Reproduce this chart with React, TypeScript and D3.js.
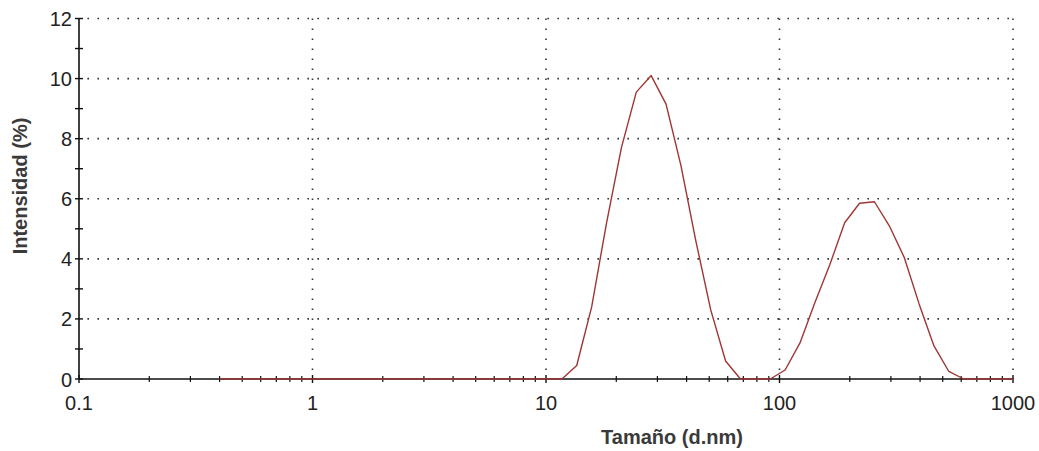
import React from "react";
import * as d3 from "d3";

// Size classes (d.nm) of the distribution
const sizes = [
  0.4, 0.4632, 0.5365, 0.6213, 0.7195, 0.8332, 0.9649, 1.117, 1.294, 1.499,
  1.736, 2.01, 2.328, 2.696, 3.122, 3.615, 4.187, 4.849, 5.615, 6.503,
  7.531, 8.721, 10.1, 11.7, 13.54, 15.69, 18.17, 21.04, 24.36, 28.21,
  32.67, 37.84, 43.82, 50.75, 58.77, 68.06, 78.82, 91.28, 105.7, 122.4,
  141.8, 164.2, 190.1, 220.2, 255.0, 295.3, 342.0, 396.1, 458.7, 531.2,
  615.1, 712.4, 825.0, 955.4, 1106,
];

// Intensity (%) per size class
const intensity = [
  0, 0, 0, 0, 0, 0, 0, 0, 0, 0,
  0, 0, 0, 0, 0, 0, 0, 0, 0, 0,
  0, 0, 0, 0, 0.45, 2.4, 5.2, 7.7, 9.55, 10.1,
  9.15, 7.1, 4.6, 2.3, 0.6, 0, 0, 0, 0.3, 1.2,
  2.55, 3.8, 5.2, 5.85, 5.9, 5.1, 4.05, 2.5, 1.1, 0.25,
  0, 0, 0, 0, 0,
];

const yTicks = [0, 2, 4, 6, 8, 10, 12];
const yMinorTicks = [1, 3, 5, 7, 9, 11];
const xDecades = [0.1, 1, 10, 100, 1000];
const xTickLabels = ["0.1", "1", "10", "100", "1000"];

const W = 1039;
const H = 451;
const left = 79;
const right = 1013;
const top = 18.5;
const bottom = 379;

export default function App() {
  const x = d3.scaleLog().domain([0.1, 1000]).range([left, right]);
  const y = d3.scaleLinear().domain([0, 12]).range([bottom, top]);

  const xMinor: number[] = [];
  for (let i = 0; i < 4; i++) {
    for (let m = 2; m <= 9; m++) xMinor.push(xDecades[i] * m);
  }

  const pts = sizes.map((s, i) => [s, intensity[i]] as [number, number]);
  const path = d3
    .line<[number, number]>()
    .x((d) => x(d[0]))
    .y((d) => y(d[1]))(pts);

  const font = "'Liberation Sans', Arial, sans-serif";
  const dot = { stroke: "#333", strokeWidth: 1.6, strokeDasharray: "1.6 8.4" };

  return (
    <svg
      width={W}
      height={H}
      style={{ position: "absolute", left: 0, top: 0, background: "#fff" }}
      fontFamily={font}
    >
      <defs>
        <clipPath id="plot">
          <rect x={left} y={0} width={right - left} height={bottom + 2} />
        </clipPath>
      </defs>

      {/* dotted grid */}
      {yTicks
        .filter((t) => t > 0)
        .map((t) => (
          <line
            key={"gy" + t}
            x1={left}
            x2={right}
            y1={y(t)}
            y2={y(t)}
            {...dot}
            strokeDashoffset={1.6}
          />
        ))}
      {xDecades
        .filter((d) => d > 0.1)
        .map((d) => (
          <line
            key={"gx" + d}
            x1={x(d)}
            x2={x(d)}
            y1={top}
            y2={bottom}
            {...dot}
          />
        ))}

      {/* axes */}
      <line x1={left} x2={left} y1={top} y2={bottom} stroke="#111" strokeWidth={1.6} />
      <line x1={left} x2={right} y1={bottom} y2={bottom} stroke="#111" strokeWidth={1.6} />

      {yTicks.map((t) => (
        <line key={"ty" + t} x1={left - 4} x2={left + 4} y1={y(t)} y2={y(t)} stroke="#111" strokeWidth={1.4} />
      ))}
      {yMinorTicks.map((t) => (
        <line key={"tym" + t} x1={left - 4} x2={left + 4} y1={y(t)} y2={y(t)} stroke="#111" strokeWidth={1.4} />
      ))}
      {xDecades.map((d) => (
        <line key={"tx" + d} x1={x(d)} x2={x(d)} y1={bottom - 4} y2={bottom + 4} stroke="#111" strokeWidth={1.4} />
      ))}
      {xMinor.map((d) => (
        <line key={"txm" + d} x1={x(d)} x2={x(d)} y1={bottom - 3} y2={bottom + 3} stroke="#111" strokeWidth={1.2} />
      ))}

      {/* distribution */}
      <path
        d={path || ""}
        fill="none"
        stroke="#a03535"
        strokeWidth={1.4}
        strokeLinejoin="round"
        clipPath="url(#plot)"
      />

      {/* tick labels */}
      {yTicks.map((t) => (
        <text key={"ly" + t} x={left - 7} y={y(t) + 7.5} textAnchor="end" fontSize={20} fill="#222">
          {t}
        </text>
      ))}
      {xDecades.map((d, i) => (
        <text key={"lx" + d} x={x(d)} y={410} textAnchor="middle" fontSize={20} fill="#222">
          {xTickLabels[i]}
        </text>
      ))}

      {/* axis titles */}
      <text x={672} y={444} textAnchor="middle" fontSize={20} fontWeight="bold" fill="#3a3a3a">
        Tamaño (d.nm)
      </text>
      <text
        transform={`translate(27,186) rotate(-90)`}
        textAnchor="middle"
        fontSize={20}
        fontWeight="bold"
        fill="#3a3a3a"
      >
        Intensidad (%)
      </text>
    </svg>
  );
}
